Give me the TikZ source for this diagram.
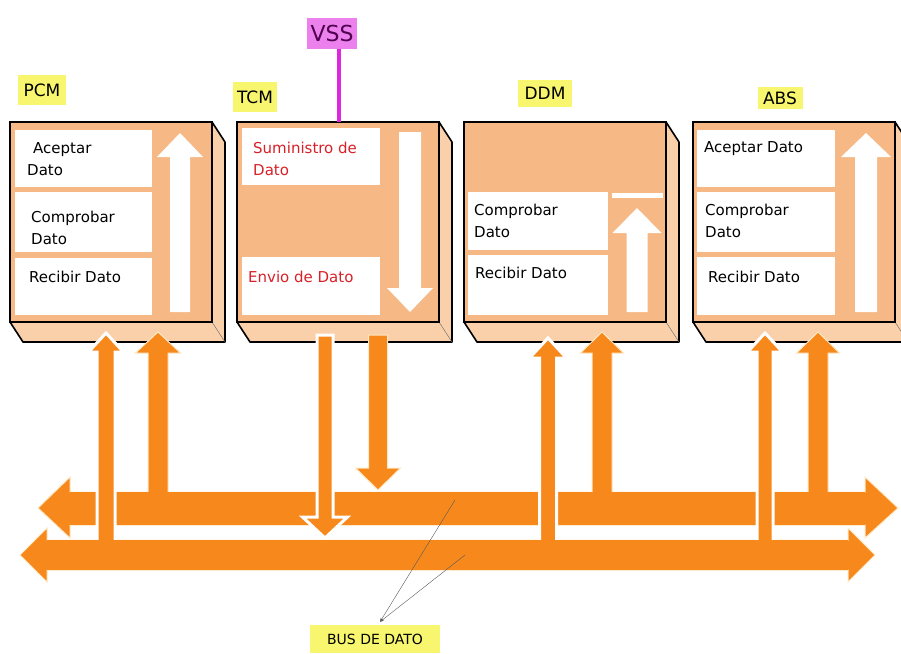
\documentclass[tikz,border=0pt]{standalone}
\usepackage{fontspec}
\setmainfont{DejaVu Sans}
\usepackage{tikz}
\usepackage{xcolor}
\usetikzlibrary{arrows.meta}

\definecolor{facepeach}{RGB}{246,184,132}
\definecolor{slabpeach}{RGB}{250,208,170}
\definecolor{busorange}{RGB}{247,136,28}
\definecolor{buscream}{RGB}{255,232,196}
\definecolor{lblyellow}{RGB}{248,246,110}
\definecolor{vsspink}{RGB}{236,128,236}
\definecolor{vssline}{RGB}{222,40,222}
\definecolor{vsstext}{RGB}{80,0,80}
\definecolor{datared}{RGB}{216,32,40}

\begin{document}
\begin{tikzpicture}[x=1pt,y=-1pt,
  face/.style={draw=black,line width=1.6pt,fill=facepeach},
  slab/.style={draw=black,line width=1.6pt,fill=slabpeach,line join=round},
  panel/.style={fill=white},
  txt/.style={anchor=west,align=left,inner sep=0pt,font=\fontsize{15}{22}\selectfont},
  redtxt/.style={txt,text=datared},
  tag/.style={fill=lblyellow,inner sep=3pt,minimum height=28pt,font=\fontsize{17}{18}\selectfont},
  flow/.style={fill=white},
  bus/.style={fill=busorange,draw=buscream,line width=1pt},
  cross/.style={fill=busorange,draw=white,line width=3pt}]

\useasboundingbox (0,0) rectangle (901,653);
\clip (0,0) rectangle (901,653);

% Module boxes (slab + front face)
\foreach \mx in {10,237,464,693} {
\begin{scope}[xshift=\mx pt]
\draw[slab] (202,122) -- (215,142) -- (215,342) -- (13,342) -- (0,322) -- (202,322) -- cycle;
\draw[black!60,thin] (202,322) -- (215,342);
\draw[face] (0,122) rectangle (202,322);
\end{scope}
}

% PCM
\begin{scope}[xshift=10pt]
\fill[panel] (5,130) rectangle (142,187);
\fill[panel] (5,192) rectangle (142,252);
\fill[panel] (5,258) rectangle (142,315);
\node[txt] (pcm-acep) at (17,159) {\hspace*{6pt}Aceptar\\Dato};
\node[txt] (pcm-comp) at (21,228) {Comprobar\\Dato};
\node[txt] (pcm-reci) at (19,277) {Recibir Dato};
\end{scope}

% TCM
\begin{scope}[xshift=237pt]
\fill[panel] (5,128) rectangle (143,185);
\fill[panel] (5,257) rectangle (143,315);
\node[redtxt] (tcm-sumi) at (16,159) {Suministro de\\Dato};
\node[redtxt] (tcm-envi) at (11,277) {Envio de Dato};
\end{scope}

% DDM
\begin{scope}[xshift=464pt]
\fill[panel] (4,192) rectangle (144,250);
\fill[panel] (4,255) rectangle (144,315);
\fill[panel] (148,193) rectangle (199,198);
\node[txt] (ddm-comp) at (10,221) {Comprobar\\Dato};
\node[txt] (ddm-reci) at (11,273) {Recibir Dato};
\end{scope}

% ABS
\begin{scope}[xshift=693pt]
\fill[panel] (4,130) rectangle (142,187);
\fill[panel] (4,192) rectangle (142,252);
\fill[panel] (4,257) rectangle (142,315);
\node[txt] (abs-acep) at (11,149) {Aceptar Dato};
\node[txt] (abs-comp) at (12,221) {Comprobar\\Dato};
\node[txt] (abs-reci) at (15,277) {Recibir Dato};
\end{scope}

% White flow arrows inside the modules
\foreach \cx/\sw/\hw/\tip/\base/\tail in {180/10/23/133/157/312, 410/11/23/312/288/132,
    637/10.5/24.5/208/233/312, 866/11/25/133/157/312}
  \fill[flow] ({\cx-\sw},\tail) -- ({\cx-\sw},\base) -- ({\cx-\hw},\base) -- (\cx,\tip)
    -- ({\cx+\hw},\base) -- ({\cx+\sw},\base) -- ({\cx+\sw},\tail) -- cycle;

% Module labels
\node[tag,minimum width=48pt,minimum height=30pt] (pcm) at (42,90) {PCM};
\node[tag,minimum width=44pt,minimum height=30pt] (tcm) at (255,97) {TCM};
\node[tag,minimum width=54pt,minimum height=27pt] (ddm) at (545,93) {DDM};
\node[tag,minimum width=45pt,minimum height=22pt,inner sep=1pt] (abs) at (780,98) {ABS};

% VSS supply
\node[fill=vsspink,text=vsstext,inner sep=2pt,minimum width=50pt,minimum height=31pt,
  font=\fontsize{22}{24}\selectfont] (vss) at (332,33) {VSS};
\coordinate (tcmtop) at (339,122);
\draw[vssline,line width=3.5pt] (vss.south -| tcmtop) -- (tcmtop);

% Lower bus (base)
\draw[bus] (20,555) -- (47,528) -- (47,540) -- (848,540) -- (848,528) -- (875,555)
  -- (848,582) -- (848,570) -- (47,570) -- (47,582) -- cycle;

% Upper bus
\draw[bus] (38,508) -- (70,477) -- (70,492) -- (865,492) -- (865,477) -- (898,508)
  -- (865,538) -- (865,525) -- (70,525) -- (70,538) -- cycle;

% Arrows joining the upper bus
\foreach \cx/\sw/\hw/\tip/\base/\tail in {158/10/22.5/332/353/500, 378/9.5/22.5/490/468/335,
    602/10/21.5/332/353/500, 818/10/21.5/332/353/500}
  \draw[bus] ({\cx-\sw},\tail) -- ({\cx-\sw},\base) -- ({\cx-\hw},\base) -- (\cx,\tip)
    -- ({\cx+\hw},\base) -- ({\cx+\sw},\base) -- ({\cx+\sw},\tail) -- cycle;
\fill[busorange] (70,492) rectangle (865,525);

% Arrows crossing to the lower bus
\foreach \cx/\sw/\hw/\tip/\base/\tail in {106/9/17.5/333/352/548, 325/8/22.5/538/517/335,
    548/8.5/18.5/338/358/548, 765/8/17.5/333/352/548}
  \draw[cross] ({\cx-\sw},\tail) -- ({\cx-\sw},\base) -- ({\cx-\hw},\base) -- (\cx,\tip)
    -- ({\cx+\hw},\base) -- ({\cx+\sw},\base) -- ({\cx+\sw},\tail) -- cycle;
\fill[busorange] (47,540) rectangle (848,570);

% Bus label
\node[fill=lblyellow,minimum width=130pt,minimum height=28pt,inner sep=2pt,
  font=\fontsize{14}{16}\selectfont] (buslbl) at (375,639) {BUS DE DATO};
\coordinate (callout) at ([xshift=5pt,yshift=3pt]buslbl.north);
\coordinate (upbus) at (455,500);
\coordinate (lowbus) at (465,555);
\draw[black!65,thin,-{Stealth[length=4pt]}] (upbus) -- (callout);
\draw[black!65,thin,-{Stealth[length=4pt]}] (lowbus) -- (callout);
\end{tikzpicture}
\end{document}
